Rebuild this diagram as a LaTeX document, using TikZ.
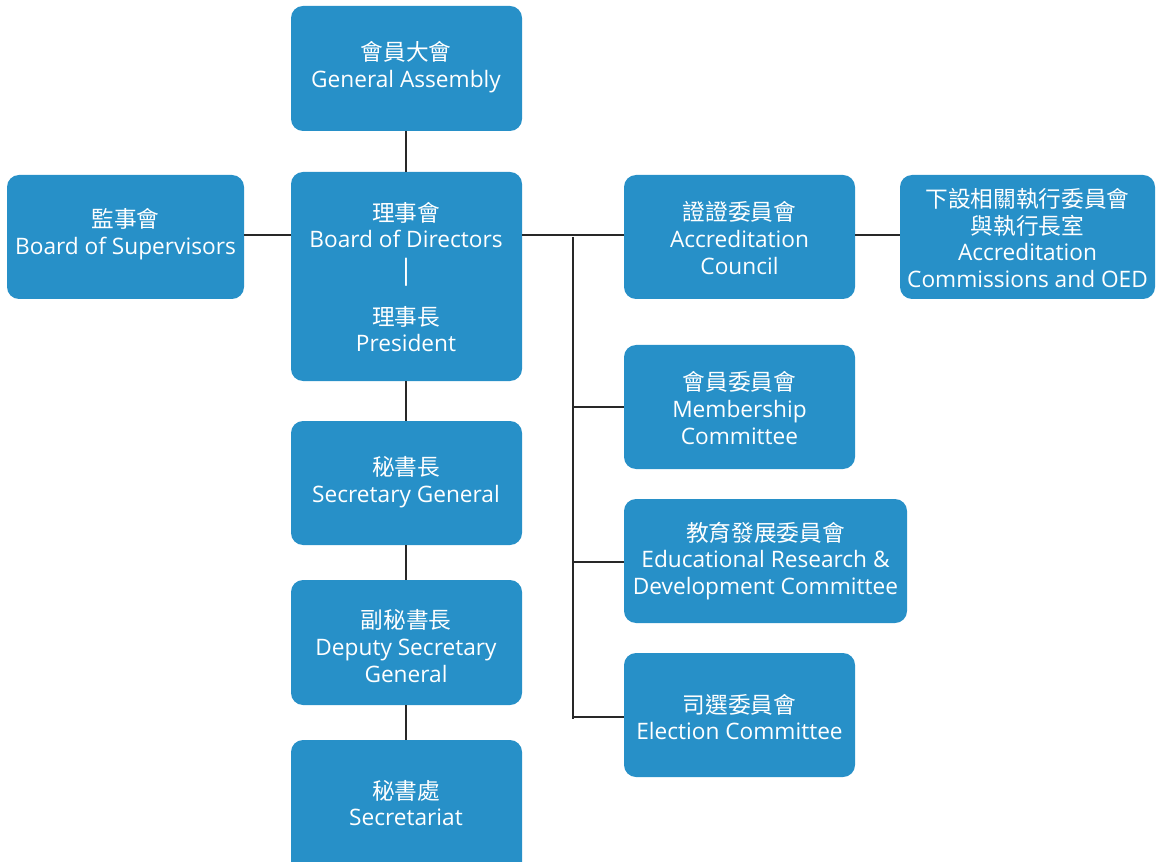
\documentclass[tikz,border=0pt]{standalone}
\usepackage{fontspec}
\setmainfont{Open Sans}
\newfontfamily\cjk{Noto Sans CJK TC}
\definecolor{boxblue}{RGB}{39,144,200}
\definecolor{linegray}{RGB}{40,40,40}
\begin{document}
\begin{tikzpicture}[x=0.75pt,y=-0.75pt,
  orgbox/.style={fill=boxblue,rounded corners=9pt,draw=none},
  lbl/.style={text=white,align=center,font=\fontsize{17pt}{20pt}\selectfont},
  conn/.style={draw=linegray,line width=1.4pt}]
\useasboundingbox (0,0) rectangle (1162,862);
\begin{scope}
\clip (0,0) rectangle (1162,862);
% boxes
\path[orgbox] (291,6) rectangle (522,131);
\path[orgbox] (7,175) rectangle (244,299);
\path[orgbox] (291,172) rectangle (522,381);
\path[orgbox] (291,421) rectangle (522,545);
\path[orgbox] (291,580) rectangle (522,705);
\path[orgbox] (291,740) rectangle (522,875);
\path[orgbox] (624,175) rectangle (855,299);
\path[orgbox] (900,175) rectangle (1155,299);
\path[orgbox] (624,345) rectangle (855,469);
\path[orgbox] (624,499) rectangle (907,623);
\path[orgbox] (624,653) rectangle (855,777);
\end{scope}
% anchor points for connections
\coordinate (gaB) at (406,131);
\coordinate (bdT) at (406,172);
\coordinate (bdB) at (406,381);
\coordinate (bdL) at (291,235);
\coordinate (bdR) at (522,235);
\coordinate (bsR) at (244,235);
\coordinate (sgT) at (406,421);
\coordinate (sgB) at (406,545);
\coordinate (dsT) at (406,580);
\coordinate (dsB) at (406,705);
\coordinate (seT) at (406,740);
\coordinate (acL) at (624,235);
\coordinate (acR) at (855,235);
\coordinate (oedL) at (900,235);
\coordinate (trTop) at (573,237);
\coordinate (trBot) at (573,719);
\coordinate (mcL) at (624,407);
\coordinate (edL) at (624,562);
\coordinate (elL) at (624,717);
\coordinate (j1) at (573,407);
\coordinate (j2) at (573,562);
\coordinate (j3) at (573,717);
% connectors
\draw[conn] (gaB) -- (bdT);
\draw[conn] (bsR) -- (bdL);
\draw[conn] (bdR) -- (acL);
\draw[conn] (acR) -- (oedL);
\draw[conn] (bdB) -- (sgT);
\draw[conn] (sgB) -- (dsT);
\draw[conn] (dsB) -- (seT);
\draw[conn] (trTop) -- (trBot);
\draw[conn] (j1) -- (mcL);
\draw[conn] (j2) -- (edL);
\draw[conn] (j3) -- (elL);
% labels
\node[lbl] (ga) at (406,67) {{\cjk 會員大會}\\General Assembly};
\node[lbl] (bs) at (125.5,234) {{\cjk 監事會}\\Board of Supervisors};
\node[lbl] (bd) at (406,225) {{\cjk 理事會}\\Board of Directors};
\node[lbl,font=\fontsize{21pt}{22pt}\selectfont] (bar) at (406,272) {|};
\node[lbl] (pr) at (406,329) {{\cjk 理事長}\\President};
\node[lbl] (sg) at (406,482) {{\cjk 秘書長}\\Secretary General};
\node[lbl] (ds) at (406,646) {{\cjk 副秘書長}\\Deputy Secretary\\General};
\node[lbl] (se) at (406,803) {{\cjk 秘書處}\\Secretariat};
\node[lbl] (ac) at (739.5,238) {{\cjk 證證委員會}\\Accreditation\\Council};
\node[lbl] (oed) at (1027.5,238) {{\cjk 下設相關執行委員會}\\{\cjk 與執行長室}\\Accreditation\\Commissions and OED};
\node[lbl] (mc) at (739.5,408) {{\cjk 會員委員會}\\Membership\\Committee};
\node[lbl] (ed) at (765.5,561) {{\cjk 教育發展委員會}\\Educational Research \&\\Development Committee};
\node[lbl] (el) at (739.5,717) {{\cjk 司選委員會}\\Election Committee};
\end{tikzpicture}
\end{document}
